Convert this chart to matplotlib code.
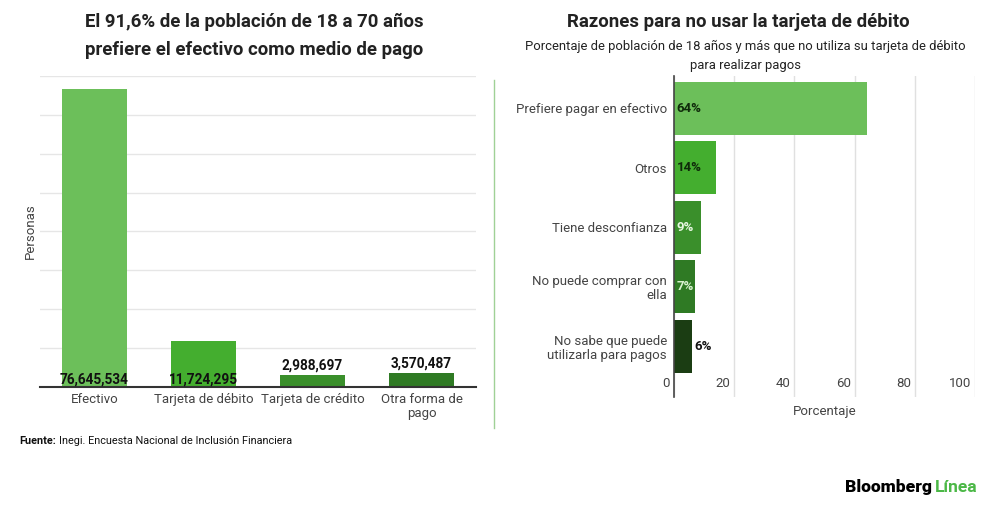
import matplotlib
matplotlib.use('Agg')
import matplotlib.pyplot as plt
from matplotlib.lines import Line2D

plt.rcParams['font.family'] = ['Roboto', 'DejaVu Sans']

# left chart data
medios = ['Efectivo', 'Tarjeta de débito', 'Tarjeta de crédito', 'Otra forma de\npago']
personas = [76645534, 11724295, 2988697, 3570487]
colores_medios = ['#6cbf5a', '#44ae2f', '#3a8f2b', '#2f7a24']

# right chart data
razones = ['Prefiere pagar en efectivo', 'Otros', 'Tiene desconfianza',
           'No puede comprar con\nella', 'No sabe que puede\nutilizarla para pagos']
porcentajes = [64, 14, 9, 7, 6]
colores_razones = ['#6cbf5a', '#44ae2f', '#3a8f2b', '#2f7a24', '#1b3d13']
x_ticks = [0, 20, 40, 60, 80, 100]

fig = plt.figure(figsize=(10, 5.08), dpi=100)

# ---- left chart
ax = fig.add_axes([0.04, 0.2382, 0.436, 0.6122])
ax.bar(range(len(medios)), personas, width=0.6, color=colores_medios, zorder=2)
ax.set_xlim(-0.5, 3.5)
ax.set_ylim(0, 80000000)
ax.set_yticks(range(0, 80000001, 10000000))
ax.set_yticklabels([])
ax.tick_params(axis='y', length=0)
ax.yaxis.grid(True, color='#e6e6e6', linewidth=1, zorder=0)
for s in ['top', 'right', 'left']:
    ax.spines[s].set_visible(False)
ax.spines['bottom'].set_color('#333333')
ax.spines['bottom'].set_linewidth(1.5)
ax.spines['bottom'].set_zorder(3)
ax.set_xticks(range(len(medios)))
ax.set_xticklabels(medios, fontsize=9.5, color='#444444', linespacing=1.1)
ax.tick_params(axis='x', length=0, pad=4)
ax.set_ylabel('Personas', fontsize=9.5, color='#444444', labelpad=-1)
for i, v in enumerate(personas):
    txt = f'{v:,}'
    if v > 8000000:
        ax.text(i, 0, txt, ha='center', va='bottom', fontsize=9.8,
                fontweight='bold', color='#111111', zorder=4)
    else:
        ax.text(i, v + 600000, txt, ha='center', va='bottom', fontsize=9.8,
                fontweight='bold', color='#111111', zorder=4)

fig.text(0.254, 0.957, 'El 91,6% de la población de 18 a 70 años', ha='center', va='center',
         fontsize=13.4, fontweight='bold', color='#222222')
fig.text(0.254, 0.902, 'prefiere el efectivo como medio de pago', ha='center', va='center',
         fontsize=13.4, fontweight='bold', color='#222222')

# separator
fig.add_artist(Line2D([0.494, 0.494], [1 - 80 / 508, 1 - 428 / 508], color='#9fd196', linewidth=1))

# ---- right chart
ax2 = fig.add_axes([0.674, 0.2185, 0.301, 0.632])
ax2.barh(range(len(razones)), porcentajes, height=0.89, color=colores_razones, zorder=2)
ax2.set_xlim(0, 100)
ax2.set_ylim(4.849, -0.546)
ax2.set_xticks(x_ticks)
ax2.set_xticklabels([])
ax2.tick_params(axis='x', length=0)
ax2.xaxis.grid(True, color='#e0e0e0', linewidth=1, zorder=0)
for s in ['top', 'right', 'bottom']:
    ax2.spines[s].set_visible(False)
ax2.spines['left'].set_color('#444444')
ax2.spines['left'].set_linewidth(1.2)
ax2.spines['left'].set_zorder(3)
ax2.set_yticks(range(len(razones)))
ax2.set_yticklabels(razones, fontsize=9.5, color='#444444', linespacing=1.1)
ax2.tick_params(axis='y', length=0, pad=5)
for t in x_ticks:
    ax2.text(t - 1.3, 4.62, str(t), ha='right', va='center', fontsize=9.5, color='#444444')
ax2.set_xlabel('Porcentaje', fontsize=9.5, color='#444444', labelpad=2)

label_colors = ['#0f2a0a', '#0f2a0a', '#e8f7e2', '#d8f2cf', '#111111']
for i, v in enumerate(porcentajes):
    if v >= 7:
        ax2.text(0.8, i, f'{v}%', ha='left', va='center', fontsize=9.5,
                 fontweight='bold', color=label_colors[i], zorder=4)
    else:
        ax2.text(v + 0.7, i, f'{v}%', ha='left', va='center', fontsize=9.5,
                 fontweight='bold', color=label_colors[i], zorder=4)

fig.text(0.738, 0.957, 'Razones para no usar la tarjeta de débito', ha='center', va='center',
         fontsize=13.4, fontweight='bold', color='#222222')
fig.text(0.745, 0.909, 'Porcentaje de población de 18 años y más que no utiliza su tarjeta de débito',
         ha='center', va='center', fontsize=9.35, color='#222222')
fig.text(0.745, 0.871, 'para realizar pagos', ha='center', va='center', fontsize=9.35,
         color='#222222')

# footer
fuente = fig.text(0.019, 0.132, 'Fuente:', ha='left', va='center', fontsize=7.8,
                  fontweight='bold', color='#111111')
fig.canvas.draw()
bb = fuente.get_window_extent()
fig.text((bb.x1 + 3) / fig.bbox.width, 0.132, 'Inegi. Encuesta Nacional de Inclusión Financiera',
         ha='left', va='center', fontsize=7.8, color='#111111')

# logo
fig.text(0.845, 0.041, 'Bloomberg', ha='left', va='center', fontsize=12.5, fontweight='black', color='#000000')
fig.text(0.978, 0.041, 'Línea', ha='right', va='center', fontsize=12.5, fontweight='bold', color='#4cb847')

fig.savefig('out.png', dpi=100)
